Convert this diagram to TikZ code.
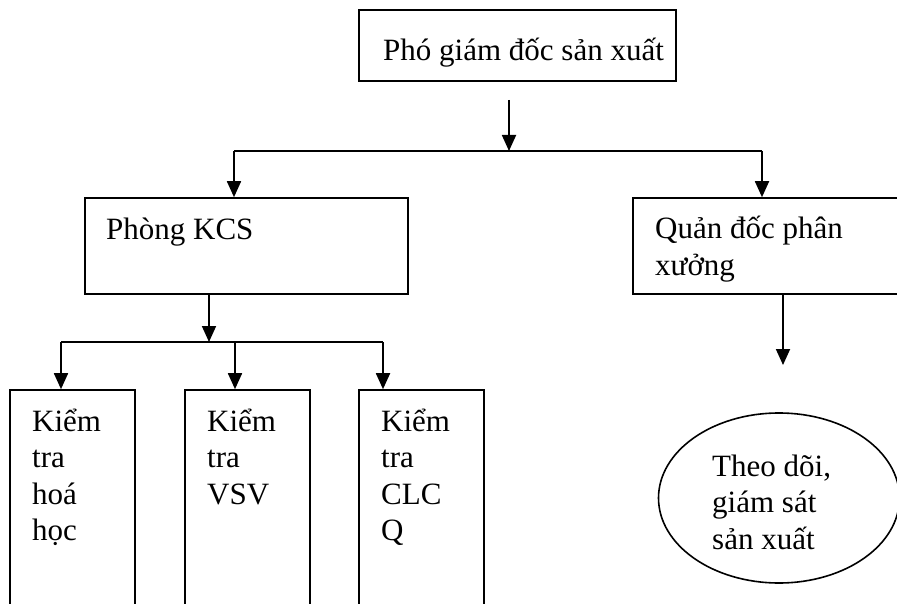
\documentclass[tikz,border=0pt]{standalone}
\usepackage{fontspec}
\setmainfont{Liberation Serif}
\usetikzlibrary{arrows.meta,shapes.geometric}
\begin{document}
\begin{tikzpicture}[x=1pt,y=-1pt,
  boxst/.style={draw, line width=1.6pt, inner sep=0pt},
  lbl/.style={font=\fontsize{31}{36.5}\selectfont, anchor=base west, align=left, inner sep=0pt},
  arr/.style={line width=1.8pt, -{Triangle[length=16pt,width=14pt]}},
  ln/.style={line width=1.8pt}]
\useasboundingbox (0,0) rectangle (897,604);
\clip (0,0) rectangle (897,604);
% boxes
\node[boxst, minimum width=317pt, minimum height=71pt] (top) at (517.5,45.5) {};
\node[boxst, minimum width=323pt, minimum height=96pt] (kcs) at (246.5,246) {};
\node[boxst, minimum width=287pt, minimum height=96pt] (qd) at (776.5,246) {};
\node[boxst, minimum width=125pt, minimum height=250pt] (b1) at (72.5,515) {};
\node[boxst, minimum width=125pt, minimum height=250pt] (b2) at (247.5,515) {};
\node[boxst, minimum width=125pt, minimum height=250pt] (b3) at (421.5,515) {};
\node[draw, ellipse, line width=1.6pt, inner sep=0pt, minimum width=241pt, minimum height=170pt] (el) at (779,498) {};
% labels (anchored at the baseline of the last line)
\node[lbl] (ttop) at (383,61) {Phó giám đốc sản xuất};
\node[lbl] (tkcs) at (106,240) {Phòng KCS};
\node[lbl] (tqd) at (655,275) {Quản đốc phân\\xưởng};
\node[lbl] (tb1) at (32,540.5) {Kiểm\\tra\\hoá\\học};
\node[lbl] (tb2) at (207,504) {Kiểm\\tra\\VSV};
\node[lbl] (tb3) at (381,540.5) {Kiểm\\tra\\CLC\\Q};
\node[lbl] (tel) at (712,549) {Theo dõi,\\giám sát\\sản xuất};
% connectors
\coordinate (a0) at (509,100);
\coordinate (j0) at (509,151);
\coordinate (jl) at (234,151);
\coordinate (jr) at (762,151);
\draw[arr] (a0) -- (j0);
\draw[ln] (jl) -- (jr);
\draw[arr] (jl) -- (kcs.north -| jl);
\draw[arr] (jr) -- (qd.north -| jr);
\coordinate (j1) at (209,342);
\coordinate (h1) at (61,342);
\coordinate (h2) at (235,342);
\coordinate (h3) at (383,342);
\draw[arr] (kcs.south -| j1) -- (j1);
\draw[ln] (h1) -- (h3);
\draw[arr] (h1) -- (b1.north -| h1);
\draw[arr] (h2) -- (b2.north -| h2);
\draw[arr] (h3) -- (b3.north -| h3);
\coordinate (q1) at (783,365);
\draw[arr] (qd.south -| q1) -- (q1);
\end{tikzpicture}
\end{document}
